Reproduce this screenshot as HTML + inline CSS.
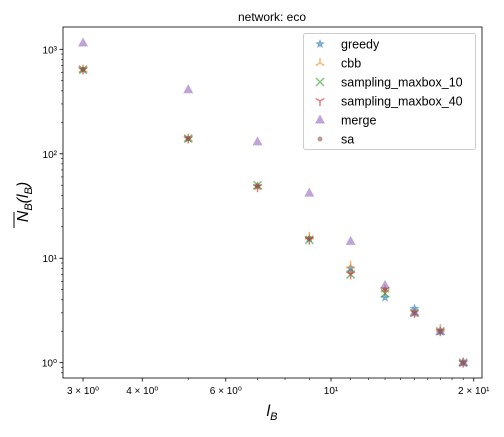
<!DOCTYPE html>
<html><head><meta charset="utf-8"><style>
body{margin:0;background:#fff;width:504px;height:432px;overflow:hidden}
svg text{font-family:"Liberation Sans","DejaVu Sans",sans-serif}
</style></head><body>
<svg id="chart" width="504" height="432" xmlns="http://www.w3.org/2000/svg">
<text x="272" y="21" font-size="12" text-anchor="middle">network: eco</text>
<rect x="63" y="27" width="419" height="351" fill="none" stroke="#000" stroke-width="0.8"/>
<g id="axes"></g>
<g id="marks"></g>
<text x="272" y="416" font-size="16" font-style="italic" text-anchor="middle">l<tspan font-size="11" dy="4">B</tspan></text>
<g transform="translate(28,202) rotate(-90)">
<text x="0" y="0" font-size="16" font-style="italic" text-anchor="middle">N<tspan font-size="11" dy="4">B</tspan><tspan dy="-4">(l</tspan><tspan font-size="11" dy="4">B</tspan><tspan dy="-4">)</tspan></text>
<line x1="-26" y1="-14" x2="-10" y2="-14" stroke="#000" stroke-width="1"/>
</g>
<g id="legend"></g>
</svg>
<script>
const xValues=[3,5,7,9,11,13,15,17,19];
const seriesNames=["greedy","cbb","sampling_maxbox_10","sampling_maxbox_40","merge","sa"];
const greedy=[640,140,49,15.5,8,4.2,3.3,2,1];
const cbb=[640,140,48,16,8.5,5,3,2.1,1];
const sm10=[640,140,50,15,7,4.6,3,2,1];
const sm40=[640,140,48,15,7,5,3,2,1];
const merge=[1150,410,130,42,14.5,5.5,3,2,1];
const sa=[640,140,49,15.5,7.5,5,3,2,1];
const xMajorTicks=[3,4,6,10,20];
const xMajorLabels=["3 \u00d7 10\u2070","4 \u00d7 10\u2070","6 \u00d7 10\u2070","10\u00b9","2 \u00d7 10\u00b9"];
const yMajorTicks=[1,10,100,1000];
const yMajorLabels=["10\u2070","10\u00b9","10\u00b2","10\u00b3"];

const NS="http://www.w3.org/2000/svg";
const X0=63,X1=482,Y0=27,Y1=378;
const lxMin=0.4349,lxMax=1.3184,lyMin=-0.1466,lyMax=3.2136;
function xs(v){return X0+(Math.log10(v)-lxMin)/(lxMax-lxMin)*(X1-X0);}
function ys(v){return Y1-(Math.log10(v)-lyMin)/(lyMax-lyMin)*(Y1-Y0);}
function mk(tag,attrs,parent){const e=document.createElementNS(NS,tag);for(const k in attrs)e.setAttribute(k,attrs[k]);parent.appendChild(e);return e;}
const axes=document.getElementById('axes');
for(let v=3;v<=20;v++){
  const major=xMajorTicks.includes(v);
  const x=xs(v);
  const t=mk('line',{x1:x,x2:x,y1:Y1,y2:Y1+(major?3.5:2),stroke:'#000','stroke-width':major?0.8:0.6},axes);
  
  
}
xMajorTicks.forEach((v,i)=>{
  const t=mk('text',{x:xs(v),y:Y1+16,'font-size':10,'text-anchor':'middle'},axes);
  t.textContent=xMajorLabels[i];
  
  
});
for(let d=-1;d<=3;d++){for(let m=1;m<10;m++){
  const v=m*Math.pow(10,d);const y=ys(v);
  if(y<Y0||y>Y1)continue;
  const major=m===1;
  const t=mk('line',{x1:X0,x2:X0-(major?3.5:2),y1:y,y2:y,stroke:'#000','stroke-width':major?0.8:0.6},axes);
  
  
}}
yMajorTicks.forEach((v,i)=>{
  const t=mk('text',{x:X0-6,y:ys(v)+4,'font-size':10,'text-anchor':'end'},axes);
  t.textContent=yMajorLabels[i];
  
  
});
const colors=["#1f77b4","#ff7f0e","#2ca02c","#d62728","#9467bd","#8c564b"];
const allSeries=[greedy,cbb,sm10,sm40,merge,sa];
function marker(kind,x,y,c,parent){
  const g=mk('g',{transform:`translate(${x},${y})`,opacity:0.6},parent);
  if(kind===0){let p=[];for(let i=0;i<10;i++){const r=i%2?2.2:5;const a=-Math.PI/2+i*Math.PI/5;p.push((r*Math.cos(a)).toFixed(2)+','+(r*Math.sin(a)).toFixed(2));}mk('polygon',{points:p.join(' '),fill:c},g);}
  else if(kind===1){mk('path',{d:'M0,0V-5M0,0L-4.3,2.5M0,0L4.3,2.5',stroke:c,'stroke-width':1.5,fill:'none'},g);}
  else if(kind===2){mk('path',{d:'M-4,-4L4,4M-4,4L4,-4',stroke:c,'stroke-width':1.5},g);}
  else if(kind===3){mk('path',{d:'M0,0V5M0,0L-4.3,-2.5M0,0L4.3,-2.5',stroke:c,'stroke-width':1.5,fill:'none'},g);}
  else if(kind===4){mk('polygon',{points:'0,-5.5 5,3.5 -5,3.5',fill:c},g);}
  else {mk('circle',{r:2.5,fill:c},g);}
  return g;
}
const marks=document.getElementById('marks');
allSeries.forEach((s,si)=>{
  const g=mk('g',{},marks);
  
  
  s.forEach((v,i)=>{
    const m=marker(si,xs(xValues[i]),ys(v),colors[si],g);
    
    
  });
});
const lg=document.getElementById('legend');
mk('rect',{x:303.5,y:33.5,width:172,height:116,rx:2,fill:'#fff','fill-opacity':0.8,stroke:'#ccc'},lg);
seriesNames.forEach((n,i)=>{
  const y=44+i*19;
  const e=mk('g',{},lg);
  
  
  marker(i,320,y,colors[i],e);
  const t=mk('text',{x:341,y:y+4.5,'font-size':12.5},e);
  t.textContent=n;
});
</script>
</body></html>
